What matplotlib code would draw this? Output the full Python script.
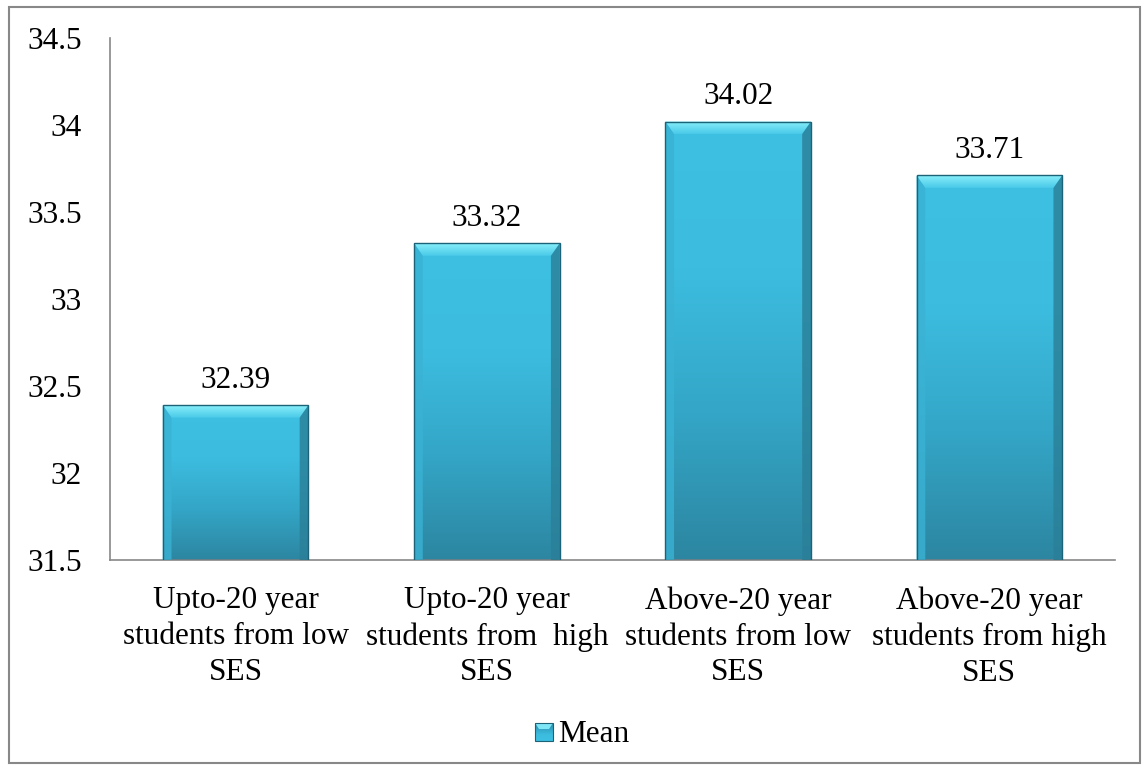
import matplotlib.pyplot as plt
import numpy as np
from matplotlib.patches import Rectangle, Polygon
from matplotlib.colors import LinearSegmentedColormap

plt.rcParams['font.family'] = ['Liberation Serif', 'DejaVu Serif']

categories = ['Upto-20 year\nstudents from low\nSES',
              'Upto-20 year\nstudents from  high\nSES',
              'Above-20 year\nstudents from low\nSES',
              'Above-20 year\nstudents from high\nSES']
means = [32.39, 33.32, 34.02, 33.71]
yticks = [31.5, 32, 32.5, 33, 33.5, 34, 34.5]
ytick_labels = ['31.5', '32', '32.5', '33', '33.5', '34', '34.5']

FS = 22.5

fig = plt.figure(figsize=(11.43, 7.66), dpi=100)
ax = fig.add_axes([0.0962, 0.2689, 0.8793, 0.6815])

base = 31.5
width = 0.58
grad = LinearSegmentedColormap.from_list('bar', ['#2c86a1', '#34a6c7', '#3cbde0', '#3dc0e2'])
gimg = np.linspace(0, 1, 256).reshape(-1, 1)
top_grad = LinearSegmentedColormap.from_list('bev', ['#48c9e8', '#8af0fb'])

def bevel_bar(x, h):
    left, right = x - width / 2, x + width / 2
    img = ax.imshow(gimg, cmap=grad, origin='lower', aspect='auto',
                    extent=[left, right, base, h], zorder=2)
    img.set_clip_path(Rectangle((left, base), width, h - base, transform=ax.transData))
    # bevelled edges: light top, shaded sides
    bx = 0.035
    by = 0.072
    top = Polygon([[left, h], [right, h], [right - bx, h - by], [left + bx, h - by]],
                  closed=True, facecolor='none', edgecolor='none', zorder=3)
    ax.add_patch(top)
    timg = ax.imshow(gimg, cmap=top_grad, origin='lower', aspect='auto',
                     extent=[left, right, h - by, h], zorder=3)
    timg.set_clip_path(top)
    ax.add_patch(Polygon([[left, h], [left + bx, h - by], [left + bx, base], [left, base]],
                         closed=True, facecolor='#3ab2d4', edgecolor='none', zorder=3, alpha=0.8))
    ax.add_patch(Polygon([[right, h], [right - bx, h - by], [right - bx, base], [right, base]],
                         closed=True, facecolor='#2a7f98', edgecolor='none', zorder=3, alpha=0.8))
    ax.add_patch(Rectangle((left, base), width, h - base, facecolor='none',
                           edgecolor='#1d6378', linewidth=1.0, zorder=4))

x = np.arange(len(categories))
for xi, m in zip(x, means):
    bevel_bar(xi, m)
    ax.text(xi, m + 0.098, f'{m:.2f}', ha='center', va='baseline', fontsize=FS)

ax.set_xlim(-0.5, len(categories) - 0.5)
ax.set_ylim(31.5, 34.5)
ax.set_yticks(yticks)
ax.set_yticklabels(ytick_labels, fontsize=FS)
ax.set_xticks(x)
ax.set_xticklabels(categories, fontsize=FS, linespacing=1.3)
ax.tick_params(axis='y', length=0, pad=20)
ax.tick_params(axis='x', length=0, pad=19)
for s in ['top', 'right']:
    ax.spines[s].set_visible(False)
for s in ['left', 'bottom']:
    ax.spines[s].set_color('#888888')
    ax.spines[s].set_linewidth(1.2)

# legend and outer frame in pixel coordinates
over = fig.add_axes([0, 0, 1, 1], facecolor='none')
over.set_xlim(0, 1143)
over.set_ylim(766, 0)
over.axis('off')
lg = Rectangle((535, 723), 18, 18, facecolor='none', edgecolor='none')
over.add_patch(lg)
limg = over.imshow(gimg, cmap=grad, origin='upper', aspect='auto',
                   extent=[535, 553, 741, 723])
limg.set_clip_path(lg)
over.add_patch(Polygon([[535, 723], [553, 723], [549, 729], [539, 729]],
                       facecolor='#7fe6f6', edgecolor='none'))
over.add_patch(Rectangle((535, 723), 18, 18, facecolor='none', edgecolor='#1d6378', lw=0.8))
over.text(558, 742, 'Mean', fontsize=FS, va='baseline', ha='left')
over.add_patch(Rectangle((9, 7), 1131, 756, facecolor='none', edgecolor='#888888', lw=1.5))
over.set_xlim(0, 1143)
over.set_ylim(766, 0)

fig.savefig('out.png', dpi=100)
